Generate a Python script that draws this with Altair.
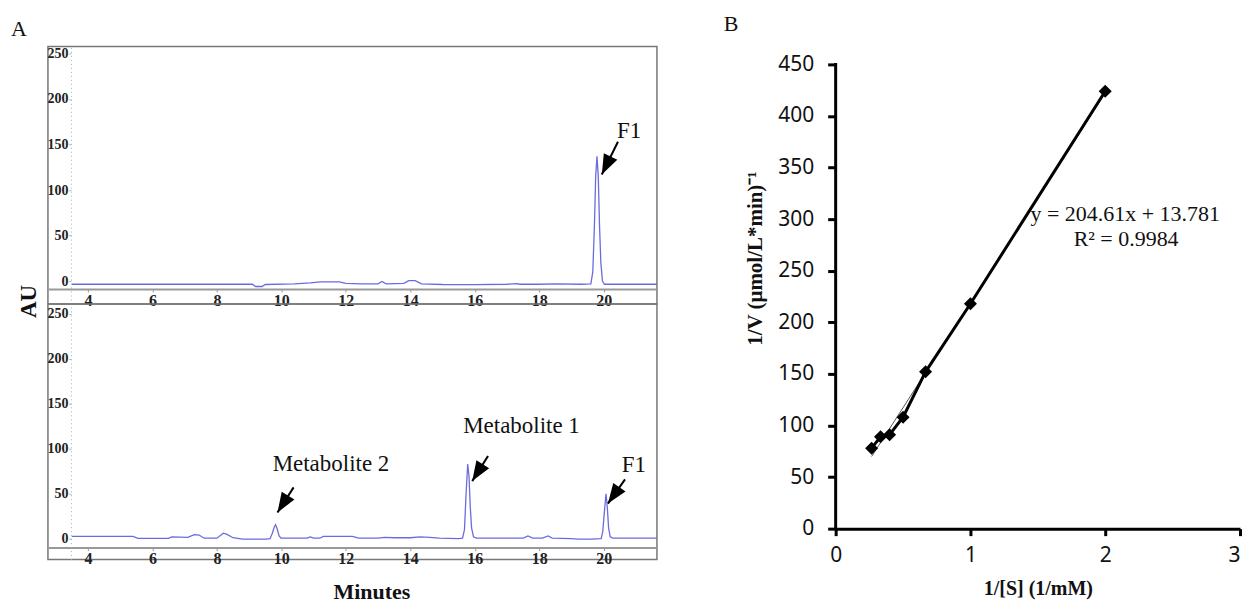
import altair as alt
import pandas as pd

# ---------------- Panel A: HPLC chromatograms ----------------
minute_ticks = [4, 6, 8, 10, 12, 14, 16, 18, 20]
au_ticks = [0, 50, 100, 150, 200, 250]

# upper trace (F1 standard)
top_min = [3.5, 5.0, 7.0, 9.1, 9.2, 9.4, 9.5, 10.4, 10.9, 11.2, 11.5, 11.8, 12.0, 12.5,
           13.0, 13.12, 13.25, 13.8, 13.95, 14.15, 14.35, 15.0, 16.0, 17.0, 17.3, 17.4,
           18.0, 18.5, 19.3, 19.6, 19.66, 19.71, 19.75, 19.79, 19.83, 19.87, 19.91, 19.96,
           20.02, 21.0, 21.65]
top_au = [-3.5, -3.5, -3.5, -3.5, -6, -6, -3.8, -3, -2, -1, -0.8, -1, -2.5, -3,
          -3, -0.5, -3, -2.5, 0.5, 0.5, -3, -3.8, -4, -3.5, -2.8, -3.5,
          -3.5, -3.2, -3.5, -3, 10, 60, 115, 137, 115, 60, 20, 0,
          -3.5, -3.5, -3.5]

# lower trace (incubation sample)
bot_min = [3.5, 5.4, 5.55, 6.5, 6.6, 7.1, 7.3, 7.45, 7.6, 8.0, 8.2, 8.3, 8.5, 8.8,
           9.5, 9.65, 9.72, 9.78, 9.82, 9.87, 9.93, 9.99, 10.15, 10.8, 10.9, 11.0, 11.2,
           11.3, 12.2, 12.4, 13.0, 13.2, 13.5, 14.0, 14.3, 14.6, 14.9, 15.5, 15.62, 15.68,
           15.73, 15.78, 15.82, 15.86, 15.9, 15.96, 16.05, 17.5, 17.65, 17.8, 18.1, 18.27,
           18.4, 19.0, 19.2, 19.6, 19.92, 19.97, 20.02, 20.07, 20.11, 20.15, 20.2, 20.28,
           21.65]
bot_au = [2.5, 2.5, 0.3, 0.3, 2, 1.5, 4.5, 4, 0.5, 0.5, 6, 5, 1, -0.5,
          -0.5, 0, 6, 13, 15.5, 11, 3, 0.5, 0.5, 0.5, 2, 0.5, 0.5,
          2.5, 2.5, 0.5, 0.5, 1.5, 1, 1, 2, 1.5, 0.5, 0, 0.5, 10,
          50, 83, 70, 35, 12, 2, 0.5, 0.5, 3, 0.5, 0.5, 3,
          0.5, 0, -0.5, -0.5, 0, 8, 30, 50, 35, 12, 2, 0.5,
          0.5]

# annotations (upper panel)
top_lab_text = ["F1"]
top_lab_min = [20.41]
top_lab_au = [164.5]
top_tail_min = [20.44]
top_tail_au = [153]
top_tip_min = [19.94]
top_tip_au = [117]
top_angle = [206]

# annotations (lower panel)
bot_lab_text = ["Metabolite 2", "Metabolite 1", "F1"]
bot_lab_min = [9.73, 15.64, 20.56]
bot_lab_au = [83, 125.6, 82]
bot_tail_min = [10.38, 16.41, 20.66]
bot_tail_au = [57, 92, 66]
bot_tip_min = [9.88, 15.92, 20.13]
bot_tip_au = [29, 64, 39]
bot_angle = [212, 212, 215]

# ---------------- Panel B: Lineweaver-Burk ----------------
inv_s = [0.267, 0.333, 0.4, 0.5, 0.667, 1.0, 2.0]
inv_v = [78, 89, 91, 108, 152, 218, 424]
b_xticks = [0, 1, 2, 3]
b_yticks = [0, 50, 100, 150, 200, 250, 300, 350, 400, 450]
eq_text = ["y = 204.61x + 13.781", "R\u00b2 = 0.9984"]
eq_x = [2.148, 2.155]
eq_y = [304.8, 280.6]

SERIF = "Liberation Serif"
TRACE = "#6b6be0"
ARROW_PATH = "M0,0 L0.75,2 L-0.75,2 Z"


def chromatogram(tmin, au, ydom, height, xoff, lab, tail, tip, angles, yaxis_extra, xaxis_extra, title=None):
    xs = alt.Scale(domain=[2.76, 21.65], nice=False, zero=False)
    ys = alt.Scale(domain=ydom, nice=False, zero=False)
    xax = alt.Axis(values=minute_ticks, offset=xoff, domainColor="#999999", domainWidth=2,
                   tickColor="#999999", tickSize=3, labelPadding=0, labelFont=SERIF,
                   labelFontWeight="bold", labelFontSize=16, labelColor="#222222",
                   grid=False, **xaxis_extra)
    yax = alt.Axis(values=au_ticks, offset=-23, domainColor="#aaaaaa", domainDash=[1, 3],
                   domainWidth=1, tickColor="#aaaaaa", tickSize=2, labelPadding=1,
                   labelFont=SERIF, labelFontWeight="bold", labelFontSize=14,
                   labelColor="#222222", grid=False, **yaxis_extra)
    X = lambda f: alt.X(f, scale=xs, axis=xax)
    Y = lambda f: alt.Y(f, scale=ys, axis=yax)

    trace = alt.Chart(pd.DataFrame({"t": tmin, "au": au})).mark_line(
        color=TRACE, strokeWidth=1.3, clip=True
    ).encode(x=X("t:Q"), y=Y("au:Q"))

    arr_df = pd.DataFrame({"t": tail[0], "au": tail[1], "t2": tip[0], "au2": tip[1], "ang": angles})
    shaft = alt.Chart(arr_df).mark_rule(color="black", strokeWidth=2).encode(
        x=X("t:Q"), y=Y("au:Q"), x2="t2:Q", y2="au2:Q")
    head = alt.Chart(arr_df).mark_point(shape=ARROW_PATH, filled=True, color="black",
                                        opacity=1, size=400, strokeWidth=0).encode(
        x=X("t2:Q"), y=Y("au2:Q"), angle=alt.Angle("ang:Q", scale=None))
    txt = alt.Chart(pd.DataFrame({"t": lab[1], "au": lab[2], "label": lab[0]})).mark_text(
        align="left", baseline="middle", font=SERIF, fontSize=23, color="#111111"
    ).encode(x=X("t:Q"), y=Y("au:Q"), text="label:N")

    props = dict(width=610, height=height,
                 view=alt.ViewBackground(stroke="#777777", strokeWidth=1.5))
    if title is not None:
        props["title"] = title
    return alt.layer(trace, shaft, head, txt).properties(**props)


top = chromatogram(
    top_min, top_au, [-25.2, 257.7], 258, -15,
    (top_lab_text, top_lab_min, top_lab_au), (top_tail_min, top_tail_au),
    (top_tip_min, top_tip_au), top_angle,
    dict(title="AU", titleFont=SERIF, titleFontWeight="bold", titleFontSize=23,
         titleColor="#111111", titleX=-42, titleY=255, titleAngle=270,
         titleBaseline="middle", titleAlign="center"),
    dict(title=None),
    title=alt.TitleParams("A", anchor="start", frame="group", dx=-37, offset=5, font=SERIF,
                          fontSize=22, fontWeight="normal", color="#111111"),
)

bottom = chromatogram(
    bot_min, bot_au, [-23.3, 261.0], 256, -12,
    (bot_lab_text, bot_lab_min, bot_lab_au), (bot_tail_min, bot_tail_au),
    (bot_tip_min, bot_tip_au), bot_angle,
    dict(title=None),
    dict(title="Minutes", titleFont=SERIF, titleFontWeight="bold", titleFontSize=22,
         titleColor="#111111", titlePadding=15, titleX=324, titleAlign="center"),
)

panel_a = alt.vconcat(top, bottom, spacing=0, bounds="flush")

# ---------------- Panel B chart ----------------
# plot area extends 18 px above the 450 line so that it lines up with panel A
B_H = 483
b_ymax = b_yticks[-1] + 18 * b_yticks[-1] / 465.0
bdf = pd.DataFrame({"x": inv_s, "y": inv_v})
bxs = alt.Scale(domain=[b_xticks[0], b_xticks[-1]], nice=False)
bys = alt.Scale(domain=[b_yticks[0], b_ymax], nice=False)
bxax = alt.Axis(values=b_xticks, domainColor="black", domainWidth=3, tickColor="black",
                tickWidth=3, tickSize=7, labelPadding=9, labelFont="Noto Sans",
                labelFontSize=21, labelColor="#111111", grid=False,
                labelAlign={"condition": {"test": "datum.value == 3", "value": "right"},
                            "value": "center"},
                title="1/[S] (1/mM)", titleFont=SERIF, titleFontWeight="bold",
                titleFontSize=20, titleColor="#111111", titlePadding=13)
byax = alt.Axis(values=b_yticks, domain=False, tickColor="black",
                tickWidth=3, tickSize=8, labelPadding=14, labelFont="Noto Sans",
                labelFontSize=21, labelColor="#111111", grid=False,
                title="1/V (\u03bcmol/L*min)\u207b\u00b9", titleFont=SERIF,
                titleFontWeight="bold", titleFontSize=21, titleColor="#111111",
                titlePadding=12, titleY=212, titleAlign="center")
BX = lambda f: alt.X(f, scale=bxs, axis=bxax)
BY = lambda f: alt.Y(f, scale=bys, axis=byax)

b_axis_line = alt.Chart(pd.DataFrame({"x": [b_xticks[0]], "y": [b_yticks[0]],
                                      "y2": [b_yticks[-1]]})).mark_rule(
    color="black", strokeWidth=3, strokeCap="square").encode(x=BX("x:Q"), y=BY("y:Q"), y2="y2:Q")
b_line = alt.Chart(bdf).mark_line(color="black", strokeWidth=3).encode(x=BX("x:Q"), y=BY("y:Q"))
b_reg = alt.Chart(bdf).transform_regression("x", "y").mark_line(
    color="#555555", strokeWidth=1).encode(x=BX("x:Q"), y=BY("y:Q"))
b_pts = alt.Chart(bdf).mark_point(shape="diamond", filled=True, color="black", opacity=1,
                                   size=170).encode(x=BX("x:Q"), y=BY("y:Q"))
b_eq = alt.Chart(pd.DataFrame({"x": eq_x, "y": eq_y, "label": eq_text})).mark_text(
    align="center", baseline="middle", font=SERIF, fontSize=22, color="#111111"
).encode(x=BX("x:Q"), y=BY("y:Q"), text="label:N")

panel_b = alt.layer(b_axis_line, b_reg, b_line, b_pts, b_eq).properties(
    width=405, height=B_H,
    view=alt.ViewBackground(stroke=None),
    title=alt.TitleParams("B", anchor="start", frame="group", dx=-112, offset=10, font=SERIF,
                          fontSize=22, fontWeight="normal", color="#111111"),
)

chart = alt.hconcat(panel_a, panel_b, spacing=66).properties(
    padding={"left": 2, "top": 5, "right": 0, "bottom": 0},
    background="white",
)

chart.save("out.html", embed_options={"renderer": "svg", "actions": False})
